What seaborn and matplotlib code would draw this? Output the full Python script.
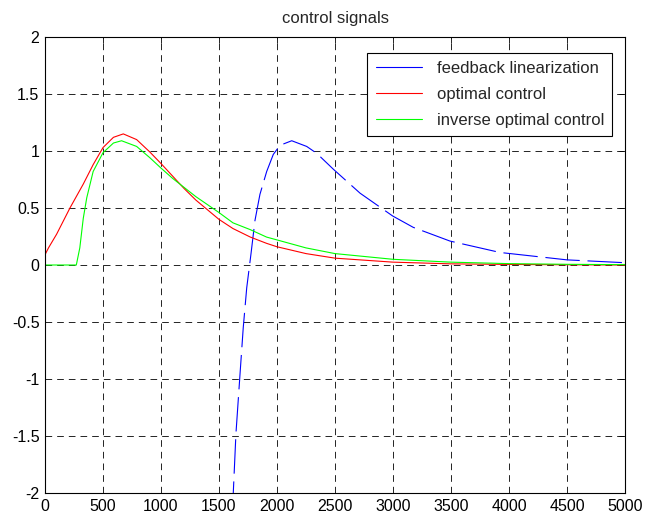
import matplotlib
matplotlib.use("Agg")
import matplotlib.pyplot as plt
import seaborn as sns
import pandas as pd

# ---- data ----
fl_x = [1610, 1623, 1646, 1681, 1709, 1739, 1776, 1810, 1853, 1911, 1968, 2026,
        2127, 2256, 2342, 2486, 2716, 2997, 3175, 3491, 3922, 4500, 5000]
fl_y = [-2.2, -2.0, -1.48, -0.96, -0.55, -0.2, 0.1, 0.39, 0.62, 0.82, 0.97, 1.05,
        1.09, 1.04, 0.98, 0.84, 0.63, 0.43, 0.33, 0.21, 0.11, 0.045, 0.02]

oc_x = [0, 30, 100, 215, 330, 415, 500, 590, 675, 790, 905, 1000, 1100, 1200,
        1300, 1500, 1620, 1770, 1910, 2000, 2250, 2500, 3000, 3500, 4000, 4500, 5000]
oc_y = [0.09, 0.15, 0.27, 0.50, 0.71, 0.88, 1.03, 1.12, 1.15, 1.10, 0.99, 0.89,
        0.78, 0.67, 0.57, 0.40, 0.32, 0.245, 0.19, 0.16, 0.10, 0.06, 0.025, 0.01,
        0.005, 0.002, 0.0]

ioc_x = [0, 270, 300, 330, 360, 415, 500, 590, 660, 790, 905, 1000, 1100, 1200,
         1300, 1500, 1620, 1770, 1910, 2000, 2250, 2500, 3000, 3500, 4000, 4500, 5000]
ioc_y = [0, 0, 0.15, 0.41, 0.59, 0.82, 0.985, 1.07, 1.09, 1.04, 0.94, 0.85, 0.76,
         0.68, 0.60, 0.46, 0.37, 0.31, 0.245, 0.22, 0.15, 0.10, 0.05, 0.025, 0.012,
         0.006, 0.003]

labels = ["feedback linearization", "optimal control", "inverse optimal control"]
colors = ["#0000ff", "#ff0000", "#00ff00"]
x_ticks = list(range(0, 5001, 500))
y_ticks = [-2, -1.5, -1, -0.5, 0, 0.5, 1, 1.5, 2]
title = "control signals"

sns.set_style("white")
plt.rcParams["font.family"] = ["Liberation Sans", "DejaVu Sans"]

fig = plt.figure(figsize=(6.45, 5.21), dpi=100)
ax = fig.add_axes([45 / 645, 28 / 521, 580 / 645, 456 / 521])

series = [(fl_x, fl_y), (oc_x, oc_y), (ioc_x, ioc_y)]
for (xs, ys), lab, col in zip(series, labels, colors):
    df = pd.DataFrame({"x": xs, "y": ys})
    sns.lineplot(data=df, x="x", y="y", ax=ax, color=col, linewidth=0.8,
                 label=lab, sort=False, estimator=None)

ax.lines[0].set_dashes([31, 7])

ax.set_xlim(0, 5000)
ax.set_ylim(-2, 2)
ax.set_xticks(x_ticks)
ax.set_yticks(y_ticks)
ax.set_xticklabels([str(t) for t in x_ticks])
ax.set_yticklabels(["%g" % t for t in y_ticks])
ax.set_xlabel("")
ax.set_ylabel("")
ax.set_title(title, fontsize=12, pad=10)

ax.grid(True, color="black", linestyle=(0, (8, 6)), linewidth=0.6)
ax.set_axisbelow(True)
for s in ax.spines.values():
    s.set_color("black")
    s.set_linewidth(0.8)
    s.set_visible(True)
ax.tick_params(direction="in", length=4, width=0.6, top=True, right=True,
               labelsize=11.5, pad=4, colors="black")

leg = ax.legend(loc="upper right", bbox_to_anchor=(0.978, 0.965), borderaxespad=0,
                fancybox=False, edgecolor="black", framealpha=1, fontsize=12,
                handlelength=2.75, handletextpad=0.9, labelspacing=0.65,
                borderpad=0.5)
leg.get_frame().set_linewidth(0.8)
for l in leg.get_lines():
    l.set_linestyle("-")

fig.savefig("out.png", dpi=100, facecolor="white")
